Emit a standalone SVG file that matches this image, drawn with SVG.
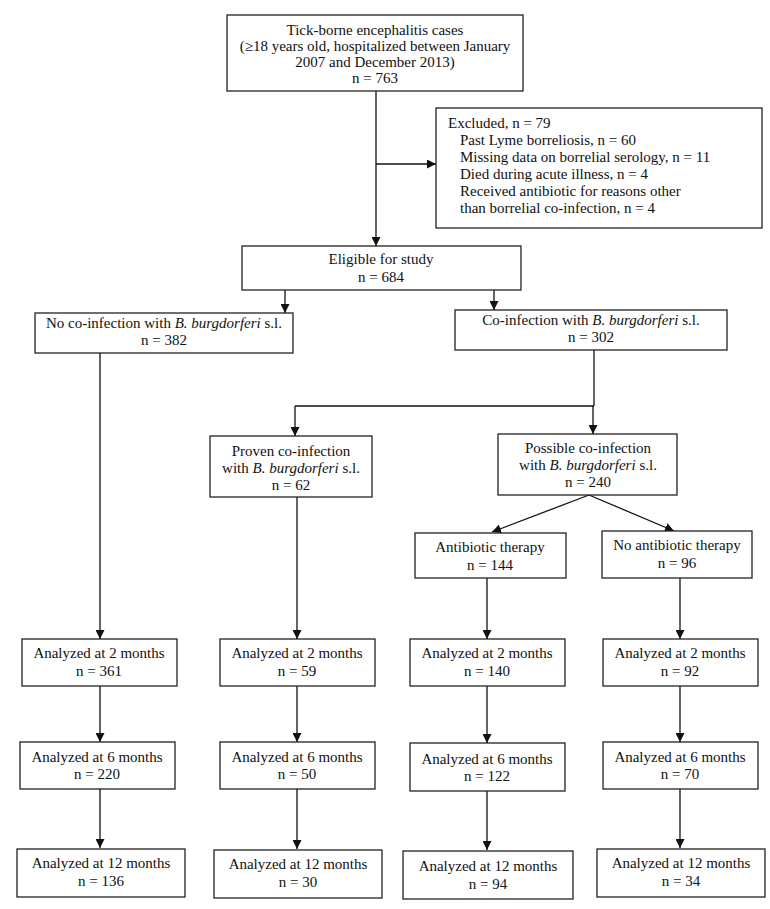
<svg xmlns="http://www.w3.org/2000/svg" width="770" height="909" viewBox="0 0 770 909">
<style>
.box{fill:#fff;stroke:#222;stroke-width:1.3}
text{font-family:"Liberation Serif","Times New Roman",serif;font-size:15px;fill:#111}
.c{text-anchor:middle}
.ln{stroke:#111;stroke-width:1.3;fill:none}
</style>
<defs>
<marker id="ah" markerUnits="userSpaceOnUse" markerWidth="10" markerHeight="9" refX="9" refY="4.5" orient="auto">
<path d="M0,0 L9,4.5 L0,9 z" fill="#111"/>
</marker>
</defs>
<rect width="770" height="909" fill="#fff"/>
<g id="connectors">
<line class="ln" x1="376" y1="91" x2="376" y2="246" marker-end="url(#ah)"/>
<line class="ln" x1="376" y1="164" x2="436" y2="164" marker-end="url(#ah)"/>
<line class="ln" x1="285" y1="290" x2="285" y2="313" marker-end="url(#ah)"/>
<line class="ln" x1="494" y1="290" x2="494" y2="310" marker-end="url(#ah)"/>
<line class="ln" x1="594" y1="350" x2="594" y2="406"/>
<line class="ln" x1="295" y1="406" x2="594" y2="406"/>
<line class="ln" x1="295" y1="406" x2="295" y2="436" marker-end="url(#ah)"/>
<line class="ln" x1="593" y1="406" x2="593" y2="434" marker-end="url(#ah)"/>
<line class="ln" x1="589" y1="495" x2="492" y2="532" marker-end="url(#ah)"/>
<line class="ln" x1="589" y1="495" x2="674" y2="531" marker-end="url(#ah)"/>
<line class="ln" x1="100" y1="353" x2="100" y2="639" marker-end="url(#ah)"/>
<line class="ln" x1="297" y1="497" x2="297" y2="639" marker-end="url(#ah)"/>
<line class="ln" x1="487" y1="578" x2="487" y2="639" marker-end="url(#ah)"/>
<line class="ln" x1="680" y1="578" x2="680" y2="639" marker-end="url(#ah)"/>
<line class="ln" x1="100" y1="686" x2="100" y2="742" marker-end="url(#ah)"/>
<line class="ln" x1="297" y1="686" x2="297" y2="742" marker-end="url(#ah)"/>
<line class="ln" x1="487" y1="686" x2="487" y2="743" marker-end="url(#ah)"/>
<line class="ln" x1="680" y1="686" x2="680" y2="742" marker-end="url(#ah)"/>
<line class="ln" x1="100" y1="789" x2="100" y2="848" marker-end="url(#ah)"/>
<line class="ln" x1="297" y1="789" x2="297" y2="849" marker-end="url(#ah)"/>
<line class="ln" x1="487" y1="791" x2="487" y2="850" marker-end="url(#ah)"/>
<line class="ln" x1="680" y1="789" x2="680" y2="848" marker-end="url(#ah)"/>
</g>
<g id="n-tbe">
<rect class="box" x="227" y="15" width="296" height="76"/>
<text class="c" x="375" y="35">Tick-borne encephalitis cases</text>
<text class="c" x="375" y="51">(≥18 years old, hospitalized between January</text>
<text class="c" x="375" y="67">2007 and December 2013)</text>
<text class="c" x="375" y="83">n = 763</text>
</g>
<g id="n-excluded">
<rect class="box" x="436" y="108" width="326" height="120"/>
<text x="448" y="128">Excluded, n = 79</text>
<text x="460" y="145">Past Lyme borreliosis, n = 60</text>
<text x="460" y="162">Missing data on borrelial serology, n = 11</text>
<text x="460" y="179">Died during acute illness, n = 4</text>
<text x="460" y="196">Received antibiotic for reasons other</text>
<text x="460" y="213">than borrelial co-infection, n = 4</text>
</g>
<g id="n-eligible">
<rect class="box" x="242" y="246" width="279" height="44"/>
<text class="c" x="381" y="264">Eligible for study</text>
<text class="c" x="381" y="282">n = 684</text>
</g>
<g id="n-noco">
<rect class="box" x="35" y="313" width="258" height="40"/>
<text class="c" x="164" y="328">No co-infection with <tspan font-style="italic">B. burgdorferi</tspan> s.l.</text>
<text class="c" x="164" y="345">n = 382</text>
</g>
<g id="n-co">
<rect class="box" x="455" y="310" width="272" height="40"/>
<text class="c" x="591" y="325">Co-infection with <tspan font-style="italic">B. burgdorferi</tspan> s.l.</text>
<text class="c" x="591" y="342">n = 302</text>
</g>
<g id="n-proven">
<rect class="box" x="210" y="436" width="162" height="61"/>
<text class="c" x="291" y="456">Proven co-infection</text>
<text class="c" x="291" y="473">with <tspan font-style="italic">B. burgdorferi</tspan> s.l.</text>
<text class="c" x="291" y="490">n = 62</text>
</g>
<g id="n-possible">
<rect class="box" x="498" y="434" width="179" height="61"/>
<text class="c" x="588" y="453">Possible co-infection</text>
<text class="c" x="588" y="470">with <tspan font-style="italic">B. burgdorferi</tspan> s.l.</text>
<text class="c" x="588" y="487">n = 240</text>
</g>
<g id="n-abx">
<rect class="box" x="415" y="533" width="151" height="45"/>
<text class="c" x="490" y="552">Antibiotic therapy</text>
<text class="c" x="490" y="570">n = 144</text>
</g>
<g id="n-noabx">
<rect class="box" x="602" y="531" width="150" height="47"/>
<text class="c" x="677" y="550">No antibiotic therapy</text>
<text class="c" x="677" y="568">n = 96</text>
</g>
<g id="n-c1-2">
<rect class="box" x="22" y="639" width="155" height="47"/>
<text class="c" x="99" y="658">Analyzed at 2 months</text>
<text class="c" x="99" y="676">n = 361</text>
</g>
<g id="n-c2-2">
<rect class="box" x="220" y="639" width="155" height="47"/>
<text class="c" x="297" y="658">Analyzed at 2 months</text>
<text class="c" x="297" y="676">n = 59</text>
</g>
<g id="n-c3-2">
<rect class="box" x="410" y="639" width="155" height="47"/>
<text class="c" x="487" y="658">Analyzed at 2 months</text>
<text class="c" x="487" y="676">n = 140</text>
</g>
<g id="n-c4-2">
<rect class="box" x="603" y="639" width="155" height="47"/>
<text class="c" x="680" y="658">Analyzed at 2 months</text>
<text class="c" x="680" y="676">n = 92</text>
</g>
<g id="n-c1-6">
<rect class="box" x="20" y="742" width="155" height="47"/>
<text class="c" x="97" y="762">Analyzed at 6 months</text>
<text class="c" x="97" y="779">n = 220</text>
</g>
<g id="n-c2-6">
<rect class="box" x="220" y="742" width="155" height="47"/>
<text class="c" x="297" y="762">Analyzed at 6 months</text>
<text class="c" x="297" y="779">n = 50</text>
</g>
<g id="n-c3-6">
<rect class="box" x="410" y="743" width="155" height="48"/>
<text class="c" x="487" y="764">Analyzed at 6 months</text>
<text class="c" x="487" y="781">n = 122</text>
</g>
<g id="n-c4-6">
<rect class="box" x="603" y="742" width="155" height="47"/>
<text class="c" x="680" y="762">Analyzed at 6 months</text>
<text class="c" x="680" y="779">n = 70</text>
</g>
<g id="n-c1-12">
<rect class="box" x="17" y="849" width="168" height="48"/>
<text class="c" x="101" y="868">Analyzed at 12 months</text>
<text class="c" x="101" y="886">n = 136</text>
</g>
<g id="n-c2-12">
<rect class="box" x="214" y="850" width="168" height="48"/>
<text class="c" x="298" y="869">Analyzed at 12 months</text>
<text class="c" x="298" y="887">n = 30</text>
</g>
<g id="n-c3-12">
<rect class="box" x="403" y="851" width="170" height="48"/>
<text class="c" x="488" y="871">Analyzed at 12 months</text>
<text class="c" x="488" y="889">n = 94</text>
</g>
<g id="n-c4-12">
<rect class="box" x="597" y="849" width="168" height="48"/>
<text class="c" x="681" y="868">Analyzed at 12 months</text>
<text class="c" x="681" y="886">n = 34</text>
</g>
</svg>
